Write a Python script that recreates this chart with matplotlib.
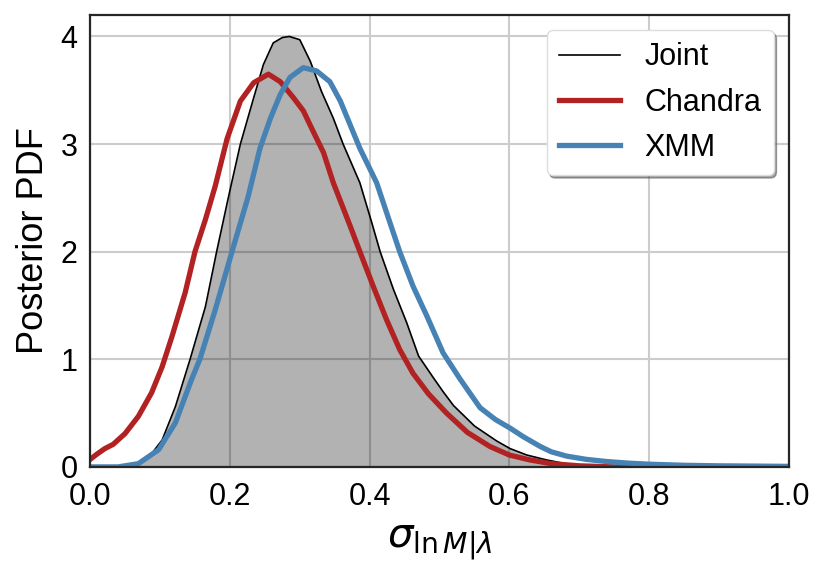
import matplotlib
matplotlib.use("Agg")
import matplotlib.pyplot as plt

# Posterior PDFs
joint_x = [0.0, 0.04, 0.06, 0.079, 0.09, 0.103, 0.122, 0.143, 0.165, 0.181, 0.198,
           0.215, 0.234, 0.248, 0.262, 0.275, 0.285, 0.300, 0.315, 0.331, 0.348,
           0.362, 0.386, 0.403, 0.415, 0.434, 0.453, 0.470, 0.491, 0.505, 0.520,
           0.55, 0.582, 0.601, 0.625, 0.653, 0.68, 0.71, 0.75, 0.80, 1.0]
joint_y = [0.0, 0.0, 0.01, 0.065, 0.14, 0.25, 0.56, 1.0, 1.49, 2.0, 2.51,
           3.0, 3.43, 3.74, 3.94, 3.99, 4.0, 3.97, 3.77, 3.49, 3.24,
           3.0, 2.64, 2.27, 2.0, 1.65, 1.34, 1.03, 0.83, 0.70, 0.57,
           0.38, 0.24, 0.17, 0.11, 0.065, 0.03, 0.01, 0.003, 0.0, 0.0]

chandra_x = [0.0, 0.01, 0.021, 0.033, 0.050, 0.069, 0.088, 0.103, 0.117, 0.136,
             0.150, 0.165, 0.179, 0.196, 0.215, 0.234, 0.255, 0.272, 0.291, 0.305,
             0.319, 0.334, 0.348, 0.372, 0.386, 0.405, 0.424, 0.443, 0.462, 0.484,
             0.510, 0.54, 0.572, 0.60, 0.629, 0.66, 0.70, 0.75, 1.0]
chandra_y = [0.07, 0.12, 0.17, 0.21, 0.31, 0.47, 0.69, 0.93, 1.21, 1.62,
             2.0, 2.30, 2.61, 3.05, 3.40, 3.57, 3.65, 3.58, 3.43, 3.31,
             3.12, 2.92, 2.64, 2.24, 2.0, 1.68, 1.37, 1.09, 0.87, 0.68,
             0.50, 0.32, 0.19, 0.11, 0.065, 0.03, 0.01, 0.0, 0.0]

xmm_x = [0.0, 0.04, 0.069, 0.098, 0.122, 0.145, 0.157, 0.179, 0.203, 0.226, 0.243,
         0.258, 0.272, 0.286, 0.305, 0.324, 0.343, 0.358, 0.372, 0.386, 0.410,
         0.429, 0.443, 0.462, 0.482, 0.505, 0.529, 0.544, 0.558, 0.58, 0.601,
         0.62, 0.644, 0.66, 0.682, 0.71, 0.739, 0.77, 0.80, 0.85, 0.90, 1.0]
xmm_y = [0.0, 0.0, 0.03, 0.16, 0.41, 0.81, 1.0, 1.46, 2.0, 2.51, 2.96,
         3.24, 3.46, 3.62, 3.71, 3.68, 3.58, 3.40, 3.18, 2.96, 2.64,
         2.27, 2.0, 1.68, 1.40, 1.06, 0.82, 0.68, 0.55, 0.44, 0.36,
         0.28, 0.19, 0.14, 0.10, 0.07, 0.05, 0.035, 0.025, 0.015, 0.01, 0.005]

plt.rcParams["font.family"] = ["Liberation Sans", "DejaVu Sans"]
plt.rcParams["mathtext.fontset"] = "dejavusans"

fig = plt.figure(figsize=(8.27, 5.75), dpi=100)
ax = fig.add_axes([0.109, 0.188, 0.845, 0.786])

ax.set_axisbelow(True)
ax.grid(True, color="#cccccc", linewidth=1.5)

ax.fill_between(joint_x, joint_y, color="k", alpha=0.3, linewidth=0)
ax.plot(joint_x, joint_y, color="k", linewidth=1.2, label="Joint")
ax.plot(chandra_x, chandra_y, color="firebrick", linewidth=3.8, label="Chandra")
ax.plot(xmm_x, xmm_y, color="steelblue", linewidth=3.8, label="XMM")

ax.set_xlim(0, 1)
ax.set_ylim(0, 4.2)
ax.set_xticks([0.0, 0.2, 0.4, 0.6, 0.8, 1.0])
ax.set_yticks([0, 1, 2, 3, 4])
ax.tick_params(length=0, labelsize=22)
ax.tick_params(axis="x", pad=11)
ax.tick_params(axis="y", pad=9)

for sp in ax.spines.values():
    sp.set_color("#262626")
    sp.set_linewidth(1.6)

ax.set_xlabel(r"$\sigma_{\ln M|\lambda}$", fontsize=29, labelpad=8)
ax.set_ylabel("Posterior PDF", fontsize=26, labelpad=7)

leg = ax.legend(loc="upper right", fontsize=22, shadow=True, fancybox=True,
                framealpha=1, borderpad=0.4, handlelength=2.0,
                borderaxespad=0.5)
leg.get_frame().set_edgecolor("#dddddd")

fig.savefig("out.png", dpi=100)
